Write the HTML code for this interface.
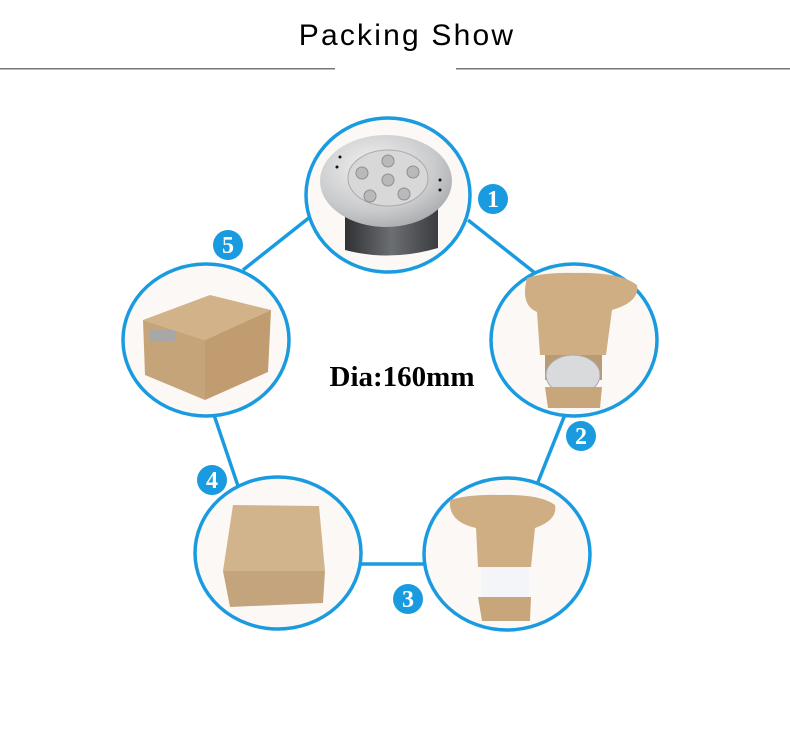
<!DOCTYPE html>
<html><head><meta charset="utf-8"><style>
html,body{margin:0;padding:0;background:#fff;}
svg{display:block;}
</style></head><body>
<svg width="790" height="739" viewBox="0 0 790 739" xmlns="http://www.w3.org/2000/svg">
<defs>
<radialGradient id="met" cx="0.4" cy="0.35" r="0.8"><stop offset="0" stop-color="#f2f2f2"/><stop offset="0.6" stop-color="#c9cacc"/><stop offset="1" stop-color="#9a9ca0"/></radialGradient>
<linearGradient id="cyl" x1="0" x2="1"><stop offset="0" stop-color="#2f3134"/><stop offset="0.5" stop-color="#6b6e72"/><stop offset="1" stop-color="#3a3c40"/></linearGradient>
</defs>
<text x="407" y="45" text-anchor="middle" font-family="'Liberation Sans',sans-serif" font-size="30" font-weight="500" fill="#000" letter-spacing="2.2">Packing Show</text>
<rect x="0" y="68" width="335" height="1.5" fill="#777"/>
<rect x="456" y="68" width="334" height="1.5" fill="#777"/>

<g stroke="#1a9be0" stroke-width="3.5" fill="none">
<line x1="310" y1="217" x2="243" y2="270"/>
<line x1="468" y1="220" x2="535" y2="273"/>
<line x1="566" y1="412" x2="538" y2="482"/>
<line x1="213" y1="412" x2="238" y2="486"/>
<line x1="360" y1="564" x2="426" y2="564"/>
</g>
<g stroke="#1a9be0" stroke-width="3.5" fill="#fbf8f6">
<ellipse cx="388" cy="195" rx="82" ry="77"/>
<ellipse cx="574" cy="340" rx="83" ry="76"/>
<ellipse cx="507" cy="554" rx="83" ry="76"/>
<ellipse cx="278" cy="553" rx="83" ry="76"/>
<ellipse cx="206" cy="340" rx="83" ry="76"/>
</g>

<!-- lamp -->
<path d="M345 205 L345 250 Q390 262 438 248 L438 205 Z" fill="url(#cyl)"/>
<ellipse cx="386" cy="181" rx="66" ry="46" fill="url(#met)"/>
<ellipse cx="388" cy="178" rx="40" ry="28" fill="#d8d8d8" stroke="#aaa"/>
<g fill="#b9b9bb" stroke="#8f8f92">
<circle cx="388" cy="161" r="6"/><circle cx="362" cy="173" r="6"/><circle cx="388" cy="180" r="6"/>
<circle cx="413" cy="172" r="6"/><circle cx="370" cy="196" r="6"/><circle cx="404" cy="194" r="6"/>
</g>
<g fill="#111"><circle cx="337" cy="167" r="1.5"/><circle cx="340" cy="157" r="1.5"/><circle cx="440" cy="180" r="1.5"/><circle cx="440" cy="190" r="1.5"/></g>

<!-- box 5 -->
<polygon points="143,320 210,295 271,310 205,340" fill="#d2b288"/>
<polygon points="143,320 205,340 205,400 145,375" fill="#c6a47a"/>
<polygon points="205,340 271,310 268,372 205,400" fill="#c09c70"/>
<rect x="150" y="330" width="25" height="12" fill="#9aa8b8" opacity="0.7"/>

<!-- box 4 -->
<polygon points="233,505 319,506 325,571 223,571" fill="#d2b48c"/>
<polygon points="223,571 325,571 323,603 230,607" fill="#c4a47c"/>

<!-- box 3 open -->
<path d="M450 500 Q470 494 500 495 Q540 494 555 505 Q558 520 535 528 L531 567 L478 567 L476 528 Q448 522 450 500 Z" fill="#cfae83"/>
<rect x="481" y="567" width="48" height="30" fill="#f4f5f8"/>
<polygon points="478,597 531,597 530,621 482,621" fill="#c8a67b"/>

<!-- box 2 open -->
<path d="M527 278 Q545 272 575 273 Q620 272 637 285 Q640 302 612 310 L606 355 L540 355 L537 312 Q520 305 527 278 Z" fill="#cfae83"/>
<polygon points="545,355 602,355 602,380 545,380" fill="#b89a74"/>
<ellipse cx="573" cy="375" rx="27" ry="20" fill="#d9dadc" stroke="#aaa"/>
<polygon points="545,387 602,387 600,408 548,408" fill="#c8a67b"/>

<text x="402" y="386" text-anchor="middle" font-family="'Liberation Serif',serif" font-weight="bold" font-size="29" fill="#000">Dia:160mm</text>

<g fill="#1a9be0">
<circle cx="493" cy="199" r="15"/><circle cx="581" cy="436" r="15"/><circle cx="408" cy="599" r="15"/><circle cx="212" cy="480" r="15"/><circle cx="228" cy="245" r="15"/>
</g>
<g fill="#fff" font-family="'Liberation Serif',serif" font-weight="bold" font-size="24" text-anchor="middle">
<text x="493" y="207">1</text><text x="581" y="444">2</text><text x="408" y="607">3</text><text x="212" y="488">4</text><text x="228" y="253">5</text>
</g>
</svg>
</body></html>
